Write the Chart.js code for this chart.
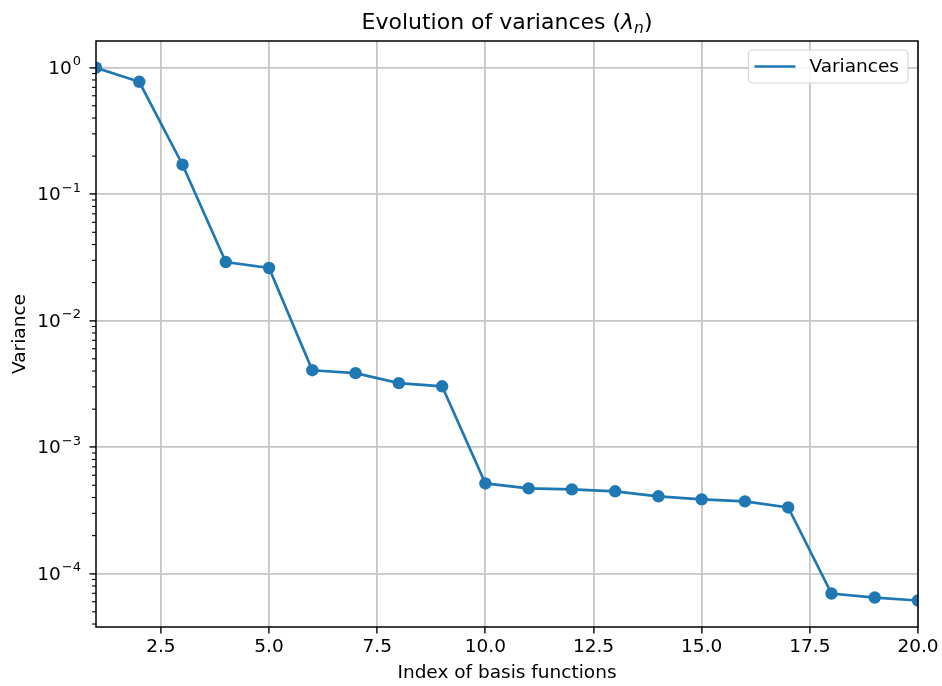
<!DOCTYPE html>
<html>
<head>
<meta charset="utf-8">
<script src="https://cdn.jsdelivr.net/npm/chart.js@4.4.1/dist/chart.umd.min.js"></script>
<style>
  html, body { margin: 0; padding: 0; background: #fff; }
  #wrap { width: 942px; height: 686px; }
</style>
</head>
<body>
<div id="wrap"><canvas id="chart" width="942" height="686"></canvas></div>
<script>
// --- data ---
const indices   = [1, 2, 3, 4, 5, 6, 7, 8, 9, 10, 11, 12, 13, 14, 15, 16, 17, 18, 19, 20];
const variances = [1.0, 0.774, 0.171, 0.0291, 0.0261, 0.00406, 0.00385, 0.00321, 0.00303,
                   0.000517, 0.000473, 0.000464, 0.000448, 0.000409, 0.000387, 0.000373, 0.000334,
                   0.0000697, 0.0000648, 0.0000614];
const xTicks     = [2.5, 5.0, 7.5, 10.0, 12.5, 15.0, 17.5, 20.0];
const yTicks     = [1, 0.1, 0.01, 0.001, 0.0001];
const yExponents = ['0', '−1', '−2', '−3', '−4'];

const FONT = "'DejaVu Sans', sans-serif";
const BLUE = '#1f77b4';
const GRID = '#c6c6c6';

// title with italic lambda and subscript n
const titlePlugin = {
  id: 'mathTitle',
  afterDraw(chart) {
    const { ctx, chartArea: a } = chart;
    const parts = [
      { t: 'Evolution of variances (', f: '22px ' + FONT, dy: 0 },
      { t: 'λ', f: 'italic 22px ' + FONT, dy: 0 },
      { t: 'n', f: 'italic 15.5px ' + FONT, dy: 4 },
      { t: ')', f: '22px ' + FONT, dy: 0 },
    ];
    ctx.save();
    let total = 0;
    parts.forEach(p => { ctx.font = p.f; p.w = ctx.measureText(p.t).width; total += p.w; });
    let x = (a.left + a.right) / 2 - total / 2;
    ctx.fillStyle = '#000';
    ctx.textBaseline = 'alphabetic';
    parts.forEach(p => { ctx.font = p.f; ctx.fillText(p.t, x, 29 + p.dy); x += p.w; });
    ctx.restore();
  }
};

// full box, minor log ticks and 10^n tick labels
const framePlugin = {
  id: 'frame',
  afterDraw(chart) {
    const { ctx, chartArea: a, scales } = chart;
    const y = scales.y;
    ctx.save();
    ctx.strokeStyle = '#000';
    ctx.lineWidth = 1.1;
    for (let n = -6; n <= 1; n++) {
      for (let k = 2; k <= 9; k++) {
        const v = k * Math.pow(10, n);
        if (v < y.min || v > y.max) continue;
        const py = y.getPixelForValue(v);
        ctx.beginPath();
        ctx.moveTo(a.left - 4, py);
        ctx.lineTo(a.left, py);
        ctx.stroke();
      }
    }
    ctx.lineWidth = 1.5;
    ctx.strokeRect(a.left, a.top, a.right - a.left, a.bottom - a.top);

    ctx.fillStyle = '#000';
    ctx.textBaseline = 'middle';
    const right = a.left - 15;
    yTicks.forEach((v, i) => {
      const py = y.getPixelForValue(v);
      ctx.font = '13px ' + FONT;
      const sw = ctx.measureText(yExponents[i]).width;
      ctx.textAlign = 'left';
      ctx.fillText(yExponents[i], right - sw, py - 6);
      ctx.font = '18.5px ' + FONT;
      ctx.textAlign = 'right';
      ctx.fillText('10', right - sw - 1, py + 1);
    });
    ctx.restore();
  }
};

// matplotlib-style legend box in the upper right
const legendPlugin = {
  id: 'mplLegend',
  afterDraw(chart) {
    const { ctx, chartArea: a } = chart;
    const label = chart.data.datasets[0].label;
    ctx.save();
    ctx.font = '18.5px ' + FONT;
    const tw = ctx.measureText(label).width;
    const w = 7 + 41 + 14 + tw + 8, h = 33;
    const x0 = a.right - 10 - w, y0 = a.top + 9;
    ctx.beginPath();
    ctx.roundRect(x0, y0, w, h, 4);
    ctx.fillStyle = 'rgba(255,255,255,0.85)';
    ctx.fill();
    ctx.strokeStyle = '#d6d6d6';
    ctx.lineWidth = 1.2;
    ctx.stroke();
    ctx.strokeStyle = BLUE;
    ctx.lineWidth = 2.7;
    ctx.beginPath();
    ctx.moveTo(x0 + 6, y0 + h / 2);
    ctx.lineTo(x0 + 47, y0 + h / 2);
    ctx.stroke();
    ctx.fillStyle = '#000';
    ctx.textBaseline = 'middle';
    ctx.fillText(label, x0 + 61, y0 + h / 2 + 1);
    ctx.restore();
  }
};

new Chart(document.getElementById('chart'), {
  type: 'line',
  data: {
    datasets: [{
      label: 'Variances',
      data: indices.map((x, i) => ({ x, y: variances[i] })),
      borderColor: BLUE,
      backgroundColor: BLUE,
      borderWidth: 2.7,
      pointRadius: 6.2,
      pointBorderWidth: 0,
      pointHoverRadius: 6.2,
      tension: 0,
      clip: 0,
    }]
  },
  options: {
    responsive: false,
    animation: false,
    layout: { padding: { left: 0, right: 24, top: 41, bottom: 0 } },
    plugins: {
      legend: { display: false },
      tooltip: { enabled: false },
      title: { display: false },
    },
    scales: {
      x: {
        type: 'linear',
        min: 1, max: 20,
        afterBuildTicks: s => { s.ticks = xTicks.map(v => ({ value: v })); },
        afterFit: s => { s.height = 59; },
        ticks: {
          color: '#000',
          font: { family: FONT, size: 18.5 },
          padding: 3,
          maxRotation: 0,
          callback: v => v.toFixed(1),
        },
        grid: { color: GRID, lineWidth: 1.8, tickColor: '#000', tickWidth: 1.4, tickLength: 6.5 },
        border: { display: false },
        title: {
          display: true,
          text: 'Index of basis functions',
          color: '#000',
          font: { family: FONT, size: 18.5 },
          padding: { top: 0, bottom: 2 },
        },
      },
      y: {
        type: 'logarithmic',
        min: 3.79e-5, max: 1.626,
        afterBuildTicks: s => { s.ticks = yTicks.map(v => ({ value: v, major: true })); },
        afterFit: s => { s.width = 96; },
        ticks: {
          display: false,
        },
        grid: { color: GRID, lineWidth: 1.8, tickColor: '#000', tickWidth: 1.4, tickLength: 6.5 },
        border: { display: false },
        title: {
          display: true,
          text: 'Variance',
          color: '#000',
          font: { family: FONT, size: 18.5 },
          padding: { top: 9, bottom: 0 },
        },
      },
    },
  },
  plugins: [titlePlugin, framePlugin, legendPlugin],
});
</script>
</body>
</html>
